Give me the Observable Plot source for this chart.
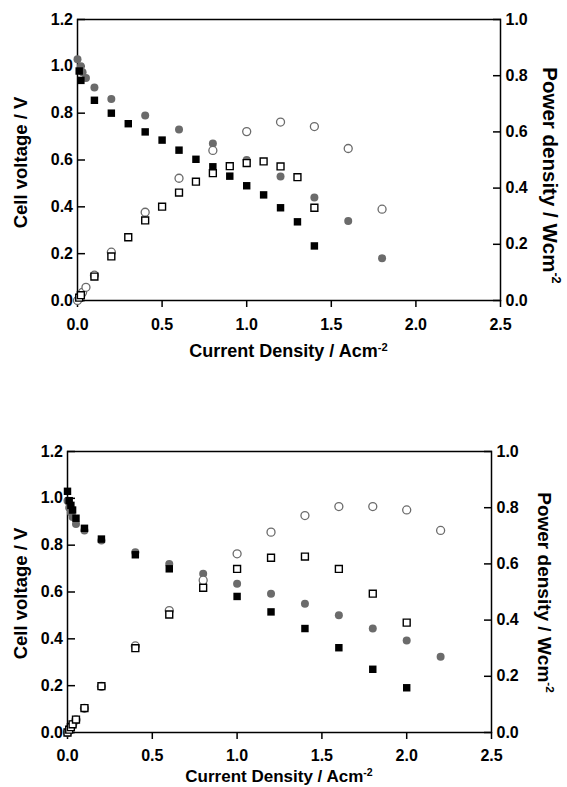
<!DOCTYPE html>
<html>
<head>
<meta charset="utf-8">
<script src="https://cdn.jsdelivr.net/npm/d3@7"></script>
<script src="https://cdn.jsdelivr.net/npm/@observablehq/plot@0.6"></script>
<style>
  html, body { margin: 0; padding: 0; background: #fff; }
  #chart > svg, #chart2 > svg { display: block; }
</style>
</head>
<body>
<div id="chart"></div>
<div id="chart2"></div>
<script>
// ---------- data ----------
// tick labels
const xTicks = [0, 0.5, 1.0, 1.5, 2.0, 2.5];
const voltageTicks = [0, 0.2, 0.4, 0.6, 0.8, 1.0, 1.2];
const powerTicks = [0, 0.2, 0.4, 0.6, 0.8, 1.0];

// top panel, series A (grey circles: filled = voltage, open = power)
const topCurrentA = [0, 0.02, 0.03, 0.05, 0.1, 0.2, 0.4, 0.6, 0.8, 1.0, 1.2, 1.4, 1.6, 1.8];
const topVoltageA = [1.03, 1.00, 0.975, 0.95, 0.91, 0.86, 0.79, 0.73, 0.67, 0.60, 0.53, 0.44, 0.34, 0.18];
const topPowerA   = [0, 0.02, 0.029, 0.047, 0.09, 0.172, 0.314, 0.435, 0.534, 0.601, 0.635, 0.619, 0.541, 0.325];
// top panel, series B (black squares: filled = voltage, open = power)
const topCurrentB = [0.01, 0.02, 0.1, 0.2, 0.3, 0.4, 0.5, 0.6, 0.7, 0.8, 0.9, 1.0, 1.1, 1.2, 1.3, 1.4];
const topVoltageB = [0.98, 0.94, 0.855, 0.80, 0.755, 0.72, 0.685, 0.642, 0.603, 0.571, 0.531, 0.49, 0.451, 0.396, 0.336, 0.233];
const topPowerB   = [0.01, 0.019, 0.085, 0.157, 0.225, 0.285, 0.334, 0.384, 0.423, 0.453, 0.478, 0.489, 0.495, 0.477, 0.439, 0.33];

// bottom panel, series A
const botCurrentA = [0, 0.01, 0.02, 0.03, 0.05, 0.1, 0.2, 0.4, 0.6, 0.8, 1.0, 1.2, 1.4, 1.6, 1.8, 2.0, 2.2];
const botVoltageA = [0.99, 0.96, 0.94, 0.92, 0.89, 0.863, 0.82, 0.77, 0.72, 0.678, 0.635, 0.592, 0.55, 0.501, 0.444, 0.393, 0.323];
const botPowerA   = [0, 0.01, 0.019, 0.028, 0.045, 0.086, 0.164, 0.308, 0.434, 0.542, 0.636, 0.713, 0.772, 0.804, 0.804, 0.792, 0.719];
// bottom panel, series B
const botCurrentB = [0, 0.01, 0.02, 0.03, 0.05, 0.1, 0.2, 0.4, 0.6, 0.8, 1.0, 1.2, 1.4, 1.6, 1.8, 2.0];
const botVoltageB = [1.03, 0.99, 0.97, 0.95, 0.915, 0.872, 0.826, 0.759, 0.699, 0.642, 0.581, 0.515, 0.444, 0.362, 0.27, 0.191];
const botPowerB   = [0, 0.01, 0.019, 0.029, 0.046, 0.087, 0.165, 0.30, 0.42, 0.515, 0.582, 0.622, 0.626, 0.582, 0.494, 0.391];

// ---------- helpers ----------
const VMAX = 1.2, PMAX = 1.0;
const toV = p => p * VMAX / PMAX; // power plotted against the voltage scale
const zip = (xs, ys) => xs.map((x, i) => ({x, y: ys[i]}));
const FONT = "'Liberation Sans', Arial, Helvetica, sans-serif";
const GREY = "#6b6b6b";

function panel(cfg) {
  const plot = Plot.plot({
    width: 567,
    height: cfg.height,
    marginLeft: cfg.ml, marginRight: cfg.mr, marginTop: cfg.mt, marginBottom: cfg.mb,
    style: {fontFamily: FONT, fontWeight: "bold", fontSize: "16px", color: "#000", background: "#fff", overflow: "visible"},
    x: {domain: [0, 2.5]},
    y: {domain: [0, VMAX]},
    marks: [
      Plot.frame({stroke: "#000", strokeWidth: 1.5}),
      Plot.axisX({ticks: xTicks, tickSize: 7, tickPadding: cfg.xpad, tickFormat: d3.format(".1f"), label: null, strokeWidth: 1.5, fontSize: 16}),
      Plot.axisY({ticks: voltageTicks, tickSize: -8, tickPadding: 12.5, tickFormat: d3.format(".1f"), label: null, strokeWidth: 1.5, fontSize: 16}),
      Plot.axisY({anchor: "right", ticks: powerTicks.map(toV), tickSize: -8, tickPadding: 13, tickFormat: d => d3.format(".1f")(d * PMAX / VMAX), label: null, strokeWidth: 1.5, fontSize: 16}),
      Plot.dot(zip(cfg.cA, cfg.vA), {x: "x", y: "y", r: 4, fill: GREY, stroke: "none"}),
      Plot.dot(zip(cfg.cB, cfg.vB), {x: "x", y: "y", r: 4.2, symbol: "square", fill: "#000", stroke: "none"}),
      Plot.dot(zip(cfg.cA, cfg.pA), {x: "x", y: d => toV(d.y), r: 4, fill: "#fff", stroke: GREY, strokeWidth: 1.3}),
      Plot.dot(zip(cfg.cB, cfg.pB), {x: "x", y: d => toV(d.y), r: 3.9, symbol: "square", fill: "#fff", stroke: "#000", strokeWidth: 1.4})
    ]
  });
  const xr = plot.scale("x").range, yr = plot.scale("y").range;
  const cx = (xr[0] + xr[1]) / 2, cy = (yr[0] + yr[1]) / 2;
  const svg = d3.select(plot);
  const g = svg.append("g").attr("font-family", FONT).attr("font-weight", "bold").attr("fill", "#000");
  // left title
  g.append("text").attr("text-anchor", "middle").attr("dominant-baseline", "central")
    .attr("font-size", cfg.lsize)
    .attr("transform", `translate(${cfg.lx},${cy + cfg.ldy}) rotate(-90)`)
    .text("Cell voltage / V");
  // right title
  const rt = g.append("text").attr("text-anchor", "middle").attr("dominant-baseline", "central")
    .attr("font-size", cfg.rsize)
    .attr("transform", `translate(${cfg.rx},${cy + cfg.rdy}) rotate(90)`);
  rt.append("tspan").text("Power density / Wcm");
  rt.append("tspan").attr("font-size", "0.62em").attr("dy", "-0.5em").text("-2");
  // x title
  const xt = g.append("text").attr("text-anchor", "middle")
    .attr("font-size", cfg.xsize)
    .attr("x", cx).attr("y", yr[0] + cfg.xty);
  xt.append("tspan").text("Current Density / Acm");
  xt.append("tspan").attr("font-size", "0.62em").attr("dy", "-0.55em").text("-2");
  return plot;
}

document.getElementById("chart").append(panel({
  height: 390, ml: 77, mr: 67, mt: 19, mb: 90, xpad: 11,
  cA: topCurrentA, vA: topVoltageA, pA: topPowerA,
  cB: topCurrentB, vB: topVoltageB, pB: topPowerB,
  lx: 20, ldy: 3, lsize: "18.5px",
  rx: 551, rdy: 16, rsize: "20.5px",
  xsize: "18px", xty: 57
}));
document.getElementById("chart2").append(panel({
  height: 397, ml: 67, mr: 76, mt: 61, mb: 55, xpad: 10.5,
  cA: botCurrentA, vA: botVoltageA, pA: botPowerA,
  cB: botCurrentB, vB: botVoltageB, pB: botPowerB,
  lx: 20, ldy: 2, lsize: "18.5px",
  rx: 545, rdy: 1, rsize: "19px",
  xsize: "17px", xty: 50
}));
</script>
</body>
</html>
